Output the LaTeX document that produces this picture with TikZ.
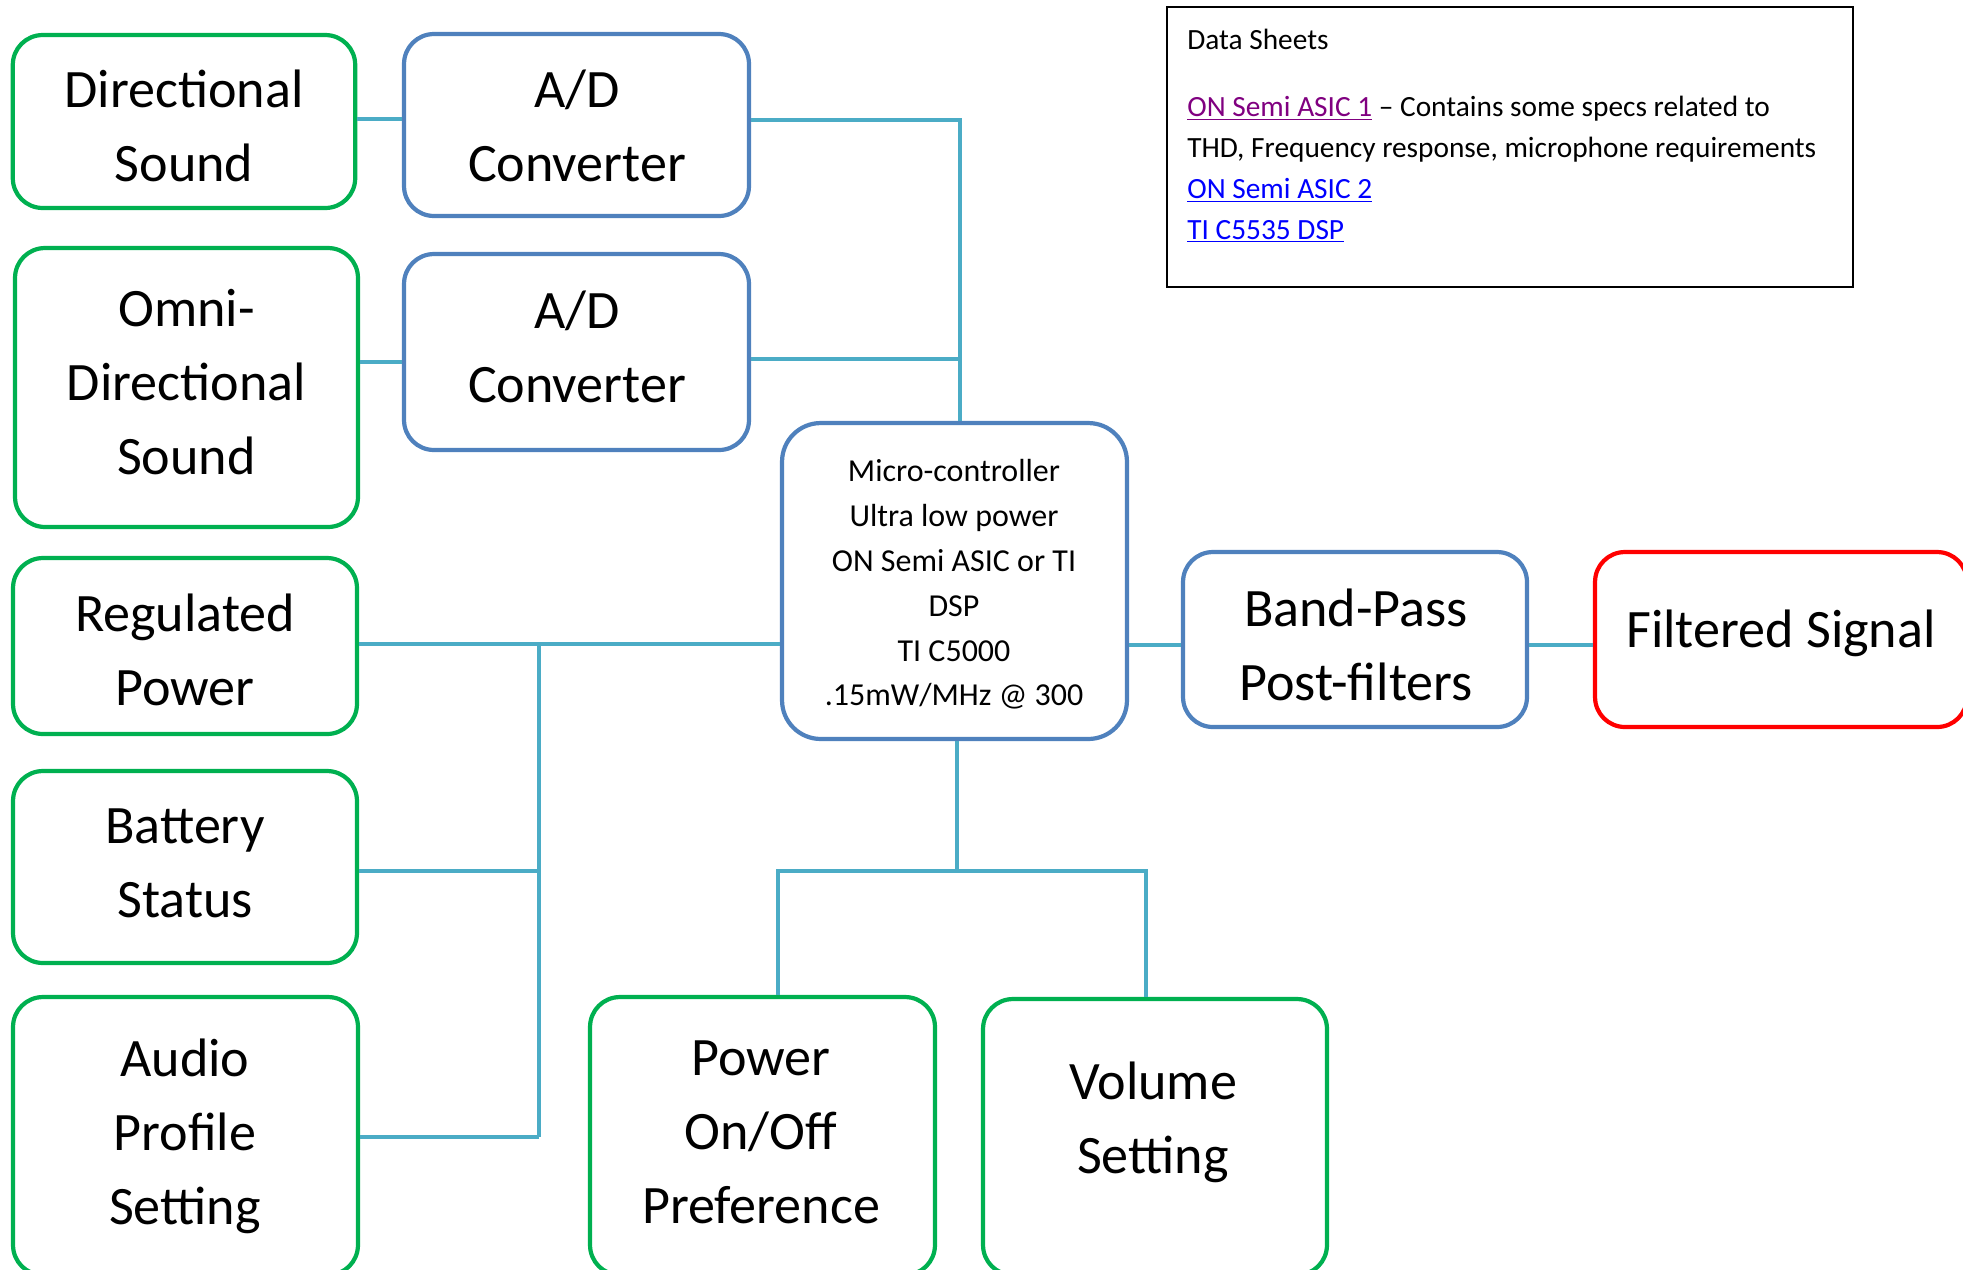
\documentclass[tikz,border=0pt]{standalone}
\usepackage{fontspec}
\setmainfont{Carlito}
\definecolor{gr}{HTML}{00B050}
\definecolor{bl}{HTML}{4F81BD}
\definecolor{aq}{HTML}{4BACC6}
\definecolor{rd}{HTML}{FF0000}
\definecolor{lnkp}{HTML}{800080}
\definecolor{lnkb}{HTML}{0000FF}
\begin{document}
\begin{tikzpicture}[x=0.02cm,y=-0.02cm,
  box/.style={draw, rectangle, rounded corners=17pt, line width=2.4pt, fill=white, inner sep=0pt},
  gbox/.style={box, draw=gr},
  bbox/.style={box, draw=bl},
  rbox/.style={box, draw=rd},
  conn/.style={draw=aq, line width=2.8pt},
  big/.style={align=center, inner sep=0pt, font=\fontsize{30.8}{42.2}\selectfont,
    execute at begin node=\strut, execute at end node=\strut},
  small/.style={align=center, inner sep=0pt, font=\fontsize{18.2}{25.5}\selectfont,
    execute at begin node=\strut, execute at end node=\strut}]
\useasboundingbox (0,0) rectangle (1963,1269);

% boxes
\node[gbox, minimum width=6.85cm, minimum height=3.46cm] (dir) at (184,121.5) {};
\node[gbox, minimum width=6.86cm, minimum height=5.58cm] (omni) at (186.5,387.5) {};
\node[gbox, minimum width=6.88cm, minimum height=3.52cm] (reg) at (185,646) {};
\node[gbox, minimum width=6.88cm, minimum height=3.84cm] (bat) at (185,867) {};
\node[gbox, minimum width=6.9cm, minimum height=5.56cm] (aud) at (185.5,1136) {};
\node[bbox, minimum width=6.9cm, minimum height=3.64cm] (ad1) at (576.5,125) {};
\node[bbox, minimum width=6.9cm, minimum height=3.92cm] (ad2) at (576.5,352) {};
\node[bbox, rounded corners=22pt, minimum width=6.9cm, minimum height=6.32cm] (micro) at (954.5,581) {};
\node[bbox, minimum width=6.88cm, minimum height=3.5cm] (bp) at (1355,639.5) {};
\node[rbox, minimum width=7.44cm, minimum height=3.5cm] (filt) at (1781,639.5) {};
\node[gbox, minimum width=6.9cm, minimum height=5.56cm] (power) at (762.5,1136) {};
\node[gbox, minimum width=6.88cm, minimum height=5.52cm] (vol) at (1155,1137) {};
\node[draw=black, line width=1.1pt, rectangle, minimum width=13.72cm, minimum height=5.6cm, inner sep=0pt] (ds) at (1510,147) {};

% texts
\node[big] (dirT) at (184,137) {Directional\\Sound};
\node[big] (omniT) at (186.5,393) {Omni-\\Directional\\Sound};
\node[big] (regT) at (185,661) {Regulated\\Power};
\node[big] (batT) at (185,874) {Battery\\Status};
\node[big] (audT) at (185,1143) {Audio\\Profile\\Setting};
\node[big] (ad1T) at (577,137) {A/D\\Converter};
\node[big] (ad2T) at (577,358) {A/D\\Converter};
\node[big] (powT) at (761,1143) {Power\\On/Off\\Preference};
\node[big] (volT) at (1153,1129) {Volume\\Setting};
\node[big] (bpT) at (1356,656) {Band-Pass\\Post-filters};
\node[big] (filtT) at (1781,633) {Filtered Signal};
\node[small] (microT) at (954,589.5) {Micro-controller\\Ultra low power\\ON Semi ASIC or TI\\DSP\\TI C5000\\.15mW/MHz @ 300};
\node[anchor=north west, align=left, inner sep=0pt, font=\fontsize{16.7}{23.2}\selectfont,
  execute at begin node=\strut] (dsT) at (1187,28.5)
  {Data Sheets\\[15.3pt]
   {\color{lnkp}\underline{ON Semi ASIC 1}} -- Contains some specs related to\\
   THD, Frequency response, microphone requirements\\
   {\color{lnkb}\underline{ON Semi ASIC 2}}\\
   {\color{lnkb}\underline{TI C5535 DSP}}};

% connectors
\coordinate (tr1) at (micro.north -| 960,0);
\draw[conn] (dir.east |- 0,119) -- (ad1.west |- 0,119);
\draw[conn] (omni.east |- 0,362) -- (ad2.west |- 0,362);
\draw[conn] (ad1.east |- 0,120) -| (tr1);
\draw[conn] (ad2.east |- 0,359) -- (tr1 |- 0,359);
\coordinate (lt1) at (539,644);
\coordinate (lt2) at (539,1137);
\draw[conn] (reg.east |- lt1) -- (micro.west |- lt1);
\draw[conn] (lt1) -- (lt2);
\draw[conn] (bat.east |- 0,871) -- (lt1 |- 0,871);
\draw[conn] (aud.east |- lt2) -- (lt2);
\draw[conn] (micro.east |- 0,645) -- (bp.west |- 0,645);
\draw[conn] (bp.east |- 0,645) -- (filt.west |- 0,645);
\coordinate (bj) at (micro.south -| 957,0);
\draw[conn] (bj) -- (bj |- 0,871);
\draw[conn] (power.north -| 778,0) -- (778,871) -- (1146,871) -- (vol.north -| 1146,0);
\end{tikzpicture}
\end{document}
